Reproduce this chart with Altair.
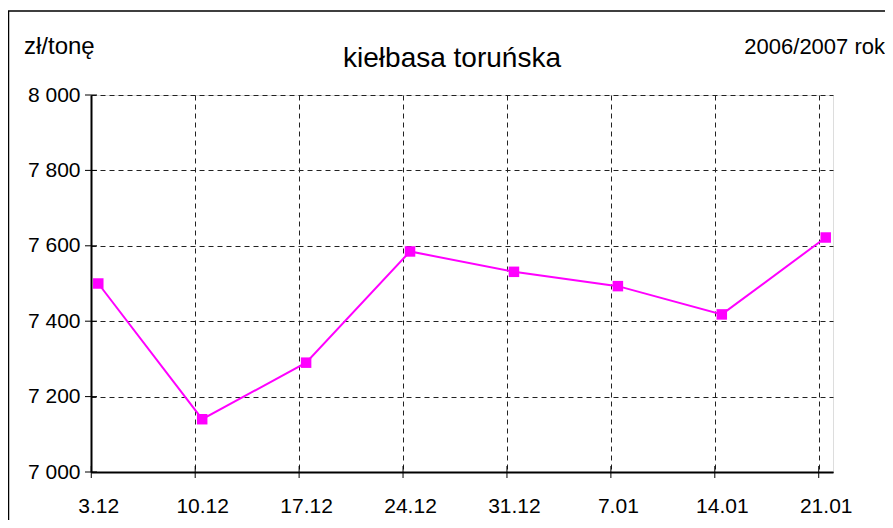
import altair as alt
import pandas as pd

categories = ["3.12", "10.12", "17.12", "24.12", "31.12", "7.01", "14.01", "21.01"]
values = [7500, 7140, 7290, 7585, 7531, 7493, 7418, 7622]
y_ticks = [7000, 7200, 7400, 7600, 7800, 8000]

title_text = "kiełbasa toruńska"
unit_text = "zł/tonę"
period_text = "2006/2007 rok"

W, H = 742, 377
FONT = "Liberation Sans"
OFF = -7

df = pd.DataFrame({"date": categories, "price": values})
ticks_df = pd.DataFrame({"v": y_ticks})
cat_df = pd.DataFrame({"date": categories})
one_df = pd.DataFrame({"k": [0]})

xscale = alt.Scale(type="point", domain=categories, padding=0.07)
yscale = alt.Scale(domain=[7000, 8000])

base_x = alt.X(
    "date:N", scale=xscale, sort=categories,
    axis=alt.Axis(title=None, labelAngle=0, ticks=False, labelPadding=23,
                  tickOffset=OFF, labelOffset=-OFF,
                  labelFontSize=21, labelFont=FONT, labelColor="#000", labelFontWeight="normal",
                  grid=True, gridDash=[5, 4], gridColor="#222", gridWidth=1,
                  domainColor="#000", domainWidth=2),
)
base_y = alt.Y(
    "price:Q", scale=yscale,
    axis=alt.Axis(title=None, values=y_ticks, ticks=False, labelPadding=11,
                  labelFontSize=21, labelFont=FONT, labelColor="#000", labelFontWeight="normal",
                  labelExpr="replace(format(datum.value, ','), ',', ' ')",
                  grid=True, gridDash=[5, 4], gridColor="#222", gridWidth=1,
                  domainColor="#000", domainWidth=2),
)

line = alt.Chart(df).mark_line(color="#FF00FF", strokeWidth=2).encode(x=base_x, y=base_y)
pts = alt.Chart(df).mark_point(shape="square", filled=True, size=110, color="#FF00FF", opacity=1).encode(
    x=alt.X("date:N", scale=xscale, sort=categories), y=alt.Y("price:Q", scale=yscale))

ytick_marks = alt.Chart(ticks_df).mark_rule(color="#000", strokeWidth=1).encode(
    y=alt.Y("v:Q", scale=yscale), x=alt.value(-6), x2=alt.value(6))
xtick_marks = alt.Chart(cat_df).mark_rule(color="#000", strokeWidth=1, xOffset=OFF).encode(
    x=alt.X("date:N", scale=xscale, sort=categories), y=alt.value(H - 6), y2=alt.value(H + 6))

frame = alt.Chart(one_df).mark_rect(filled=False, stroke="#000", strokeWidth=1.5, clip=False).encode(
    x=alt.value(-82.5), x2=alt.value(900), y=alt.value(-84), y2=alt.value(700))

title = alt.Chart(one_df).mark_text(text=title_text, fontSize=28, font=FONT, fill="#000",
                                    fontWeight="normal", align="center", baseline="middle").encode(
    x=alt.value(361), y=alt.value(-36))
unit = alt.Chart(one_df).mark_text(text=unit_text, fontSize=24, font=FONT, fill="#000",
                                   fontWeight="normal", align="left", baseline="middle").encode(
    x=alt.value(-67), y=alt.value(-48))
period = alt.Chart(one_df).mark_text(text=period_text, fontSize=22, font=FONT, fill="#000",
                                     fontWeight="normal", align="right", baseline="middle").encode(
    x=alt.value(794), y=alt.value(-48))

chart = alt.layer(frame, line, pts, ytick_marks, xtick_marks, title, unit, period).properties(
    width=W, height=H,
    autosize=alt.AutoSizeParams(type="none"),
    padding={"left": 83, "top": 87, "right": 52, "bottom": 48},
).configure_view(stroke=None).configure(background="white")

chart.save("out.html", embed_options={"renderer": "svg", "actions": False})
